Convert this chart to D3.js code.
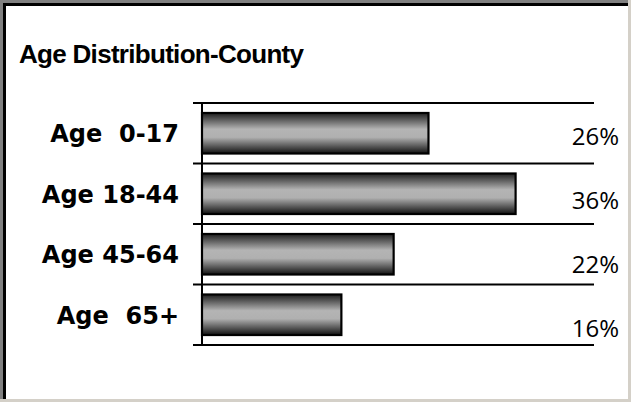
<!DOCTYPE html>
<html lang="en">
<head>
  <meta charset="utf-8">
  <title>Age Distribution-County</title>
  <script src="https://d3js.org/d3.v7.min.js"></script>
  <style>
    html, body { margin: 0; padding: 0; background: #d4d0c8; }
    svg { display: block; }
    .cat { font: bold 24px "DejaVu Sans", Verdana, sans-serif; fill: #000; white-space: pre; }
    .pct { font: 24px "Open Sans", sans-serif; fill: #000; }
    .title { font: bold 26px "Liberation Sans", Arial, sans-serif; fill: #000; letter-spacing: -0.7px; }
  </style>
</head>
<body>
<div id="chart"></div>
<script>
"use strict";

// dados
var categorias = ["Age  0-17", "Age 18-44", "Age 45-64", "Age  65+"];
var percentuais = [26, 36, 22, 16];
var rotulos = ["26%", "36%", "22%", "16%"];

var largura = 631, altura = 402;

var svg = d3.select("#chart").append("svg")
    .attr("width", largura)
    .attr("height", altura);

// moldura tipo janela (borda rebaixada)
svg.append("rect").attr("width", largura).attr("height", altura).attr("fill", "#d4d0c8");
svg.append("rect").attr("width", 628).attr("height", 399).attr("fill", "#808080");
svg.append("rect").attr("x", 3).attr("y", 3).attr("width", 625).attr("height", 396).attr("fill", "#000");
svg.append("rect").attr("x", 6).attr("y", 6).attr("width", 622).attr("height", 393).attr("fill", "#fff");

// gradiente das barras
var grad = svg.append("defs").append("linearGradient")
    .attr("id", "barra")
    .attr("x1", 0).attr("y1", 0).attr("x2", 0).attr("y2", 1);
grad.selectAll("stop")
  .data([[0, "#1e1e1e"], [0.4, "#b4b4b4"], [0.6, "#b0b0b0"], [1, "#111"]])
  .enter().append("stop")
    .attr("offset", d => d[0])
    .attr("stop-color", d => d[1]);

svg.append("text")
    .attr("class", "title")
    .attr("x", 19)
    .attr("y", 63)
    .text("Age Distribution-County");

var dados = categorias.map((c, i) => ({cat: c, valor: percentuais[i], rotulo: rotulos[i]}));

var x = d3.scaleLinear()
    .domain([0, 45])
    .range([202, 594]);

var y = d3.scaleBand()
    .domain(categorias)
    .range([103, 345])
    .paddingInner(0.33)
    .paddingOuter(0.165);

// posicao dos percentuais (um pouco deslocados em relacao as faixas)
var yRot = d3.scalePoint()
    .domain(categorias)
    .range([145, 337]);

var limites = d3.scaleLinear().domain([0, categorias.length]).range(y.range());

// linhas de grade nas divisoes das categorias
svg.append("g").selectAll("line")
  .data(d3.range(categorias.length + 1))
  .enter().append("line")
    .attr("x1", x(0) - 9)
    .attr("x2", x.range()[1])
    .attr("y1", d => limites(d))
    .attr("y2", d => limites(d))
    .attr("stroke", "#000")
    .attr("stroke-width", 2);

// barras
svg.append("g").selectAll("rect")
  .data(dados)
  .enter().append("rect")
    .attr("x", x(0))
    .attr("y", d => y(d.cat))
    .attr("width", d => x(d.valor) - x(0))
    .attr("height", y.bandwidth())
    .attr("fill", "url(#barra)")
    .attr("stroke", "#000")
    .attr("stroke-width", 2.2);

// eixo vertical
svg.append("line")
    .attr("x1", x(0)).attr("x2", x(0))
    .attr("y1", y.range()[0]).attr("y2", y.range()[1])
    .attr("stroke", "#000")
    .attr("stroke-width", 2);

// nomes das categorias
svg.append("g").selectAll("text")
  .data(dados)
  .enter().append("text")
    .attr("class", "cat")
    .attr("x", 179)
    .attr("y", d => y(d.cat) + y.bandwidth() / 2 + 9)
    .attr("text-anchor", "end")
    .text(d => d.cat);

// percentuais
svg.append("g").selectAll("text")
  .data(dados)
  .enter().append("text")
    .attr("class", "pct")
    .attr("x", 619)
    .attr("y", d => yRot(d.cat))
    .attr("text-anchor", "end")
    .text(d => d.rotulo);
</script>
</body>
</html>
